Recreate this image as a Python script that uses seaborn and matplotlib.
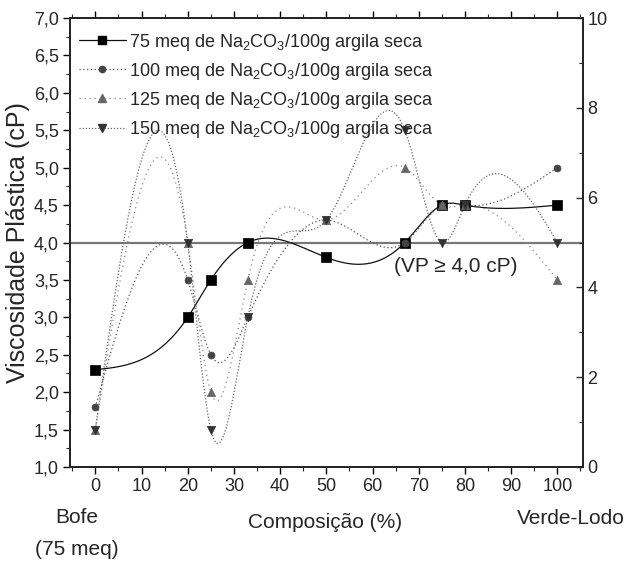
import matplotlib
matplotlib.use("Agg")
import matplotlib.pyplot as plt
from matplotlib.ticker import MultipleLocator, FuncFormatter
from matplotlib.lines import Line2D
import numpy as np
import pandas as pd
import seaborn as sns

# dados
composicao = [0, 20, 25, 33, 50, 67, 75, 80, 100]
vp_75 = [2.3, 3.0, 3.5, 4.0, 3.8, 4.0, 4.5, 4.5, 4.5]
vp_100 = [1.8, 3.5, 2.5, 3.0, 4.3, 4.0, 4.5, 4.5, 5.0]
vp_125 = [1.5, 4.0, 2.0, 3.5, 4.3, 5.0, 4.5, 4.5, 3.5]
vp_150 = [1.5, 4.0, 1.5, 3.0, 4.3, 5.5, 4.0, 4.5, 4.0]
series = ["75", "100", "125", "150"]
limite_vp = 4.0

sns.set_theme(style="white")
plt.rcParams["font.family"] = ["Liberation Sans", "DejaVu Sans"]
plt.rcParams["mathtext.fontset"] = "custom"
plt.rcParams["mathtext.rm"] = "Liberation Sans"
plt.rcParams["mathtext.default"] = "regular"


def spline(x, y, n=400):
    # spline cubica natural (como a curva do Origin)
    x = np.asarray(x, float)
    y = np.asarray(y, float)
    k = len(x)
    h = np.diff(x)
    A = np.zeros((k, k))
    b = np.zeros(k)
    A[0, 0] = A[-1, -1] = 1
    for i in range(1, k - 1):
        A[i, i - 1] = h[i - 1]
        A[i, i] = 2 * (h[i - 1] + h[i])
        A[i, i + 1] = h[i]
        b[i] = 6 * ((y[i + 1] - y[i]) / h[i] - (y[i] - y[i - 1]) / h[i - 1])
    m = np.linalg.solve(A, b)
    xs = np.linspace(x[0], x[-1], n)
    j = np.clip(np.searchsorted(x, xs) - 1, 0, k - 2)
    t = xs - x[j]
    hj = h[j]
    ys = (m[j] * (x[j + 1] - xs) ** 3 / (6 * hj) + m[j + 1] * t ** 3 / (6 * hj)
          + (y[j] / hj - m[j] * hj / 6) * (x[j + 1] - xs)
          + (y[j + 1] / hj - m[j + 1] * hj / 6) * t)
    return xs, ys


dados = {"75": vp_75, "100": vp_100, "125": vp_125, "150": vp_150}
estilo = {
    "75": dict(color="#111111", ls="-", lw=0.9, marker="s", mc="#000000", ms=7),
    "100": dict(color="#555555", ls=(0, (1, 2)), lw=0.9, marker="o", mc="#444444", ms=5),
    "125": dict(color="#888888", ls=(0, (1, 3)), lw=0.9, marker="^", mc="#666666", ms=6),
    "150": dict(color="#666666", ls=(0, (1, 1.5)), lw=0.9, marker="v", mc="#333333", ms=6),
}

fig = plt.figure(figsize=(6.3, 5.64), dpi=100)
ax = fig.add_axes([0.111, 0.172, 0.814, 0.796])

ax.axhline(limite_vp, color="#777777", lw=1.6, zorder=1)

for s in series:
    xs, ys = spline(composicao, dados[s])
    st = estilo[s]
    curva = pd.DataFrame({"x": xs, "y": ys})
    sns.lineplot(data=curva, x="x", y="y", ax=ax, color=st["color"], lw=st["lw"],
                 linestyle=st["ls"], sort=False, zorder=2)
    pts = pd.DataFrame({"x": composicao, "y": dados[s]})
    sns.scatterplot(data=pts, x="x", y="y", ax=ax, marker=st["marker"], s=st["ms"] ** 2,
                    color=st["mc"], edgecolor=st["mc"], linewidth=0.5, zorder=3)

ax.set_xlim(-5.5, 105.5)
ax.set_ylim(1.0, 7.0)
ax.xaxis.set_major_locator(MultipleLocator(10))
ax.xaxis.set_minor_locator(MultipleLocator(5))
ax.yaxis.set_major_locator(MultipleLocator(0.5))
ax.yaxis.set_minor_locator(MultipleLocator(0.25))
ax.yaxis.set_major_formatter(FuncFormatter(lambda v, p: f"{v:.1f}".replace(".", ",")))
ax.tick_params(axis="both", which="major", direction="out", length=5, width=1,
               labelsize=13, color="black", bottom=True, left=True, top=True, pad=3)
ax.tick_params(axis="both", which="minor", direction="out", length=3, width=0.8,
               bottom=True, left=True, top=True)
for sp in ax.spines.values():
    sp.set_color("black")
    sp.set_linewidth(1.2)

ax.set_xlabel("")
ax.set_ylabel("Viscosidade Plástica (cP)", fontsize=18, labelpad=3)

ax2 = ax.twinx()
ax2.set_ylim(0, 10)
ax2.yaxis.set_major_locator(MultipleLocator(2))
ax2.yaxis.set_minor_locator(MultipleLocator(1))
ax2.tick_params(axis="y", which="major", direction="in", length=5, width=1, labelsize=13, right=True)
ax2.tick_params(axis="y", which="minor", direction="in", length=3, width=0.8, right=True)
ax2.grid(False)

ax.text(78, 3.68, "(VP ≥ 4,0 cP)", fontsize=15, ha="center", va="center")

fig.text(0.122, 0.082, "Bofe", fontsize=15, ha="center", va="center")
fig.text(0.122, 0.025, "(75 meq)", fontsize=15, ha="center", va="center")
fig.text(0.516, 0.074, "Composição (%)", fontsize=15, ha="center", va="center")
fig.text(0.906, 0.08, "Verde-Lodo", fontsize=15, ha="center", va="center")

handles = []
for s in series:
    st = estilo[s]
    handles.append(Line2D([], [], color=st["color"], ls=st["ls"], lw=st["lw"],
                          marker=st["marker"], markersize=st["ms"] * 0.9,
                          markerfacecolor=st["mc"], markeredgecolor=st["mc"]))
labels = [f"{s} meq de Na$_2$CO$_3$/100g argila seca" for s in series]
ax.legend(handles, labels, loc="upper left", bbox_to_anchor=(0.0, 0.99), frameon=False,
          fontsize=13, handlelength=2.6, handletextpad=0.15, labelspacing=0.45,
          borderaxespad=0.1)

fig.savefig("out.png", dpi=100)
